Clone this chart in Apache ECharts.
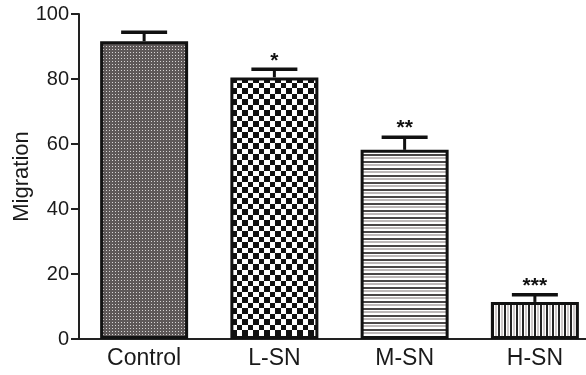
<!DOCTYPE html>
<html><head><meta charset="utf-8">
<script src="https://cdn.jsdelivr.net/npm/echarts@6/dist/echarts.min.js"></script>
<style>html,body{margin:0;padding:0;background:#fff}#c{width:586px;height:375px}</style>
</head><body><div id="c"></div>
<script>
const categories = ['Control', 'L-SN', 'M-SN', 'H-SN'];
const means = [91.6, 80.5, 58.2, 11.4];
const errors = [2.8, 2.5, 3.9, 2.2];
const significance = ['', '*', '**', '***'];
const yTicks = [0, 20, 40, 60, 80, 100];

function makePattern(w, h, draw) {
  const c = document.createElement('canvas');
  c.width = w; c.height = h;
  const g = c.getContext('2d');
  draw(g);
  return { image: c, repeat: 'repeat' };
}
const patterns = [
  makePattern(3, 3, g => { g.fillStyle = '#5e5858'; g.fillRect(0,0,3,3); g.fillStyle = '#d6d3d3'; g.fillRect(1,1,1,1); }),
  makePattern(11, 11, g => { g.fillStyle = '#fff'; g.fillRect(0,0,11,11); g.fillStyle = '#111'; g.fillRect(0,0,6,6); g.fillRect(6,6,5,5); }),
  makePattern(1, 7, g => { g.fillStyle = '#fff'; g.fillRect(0,0,1,7); g.fillStyle = '#4a4747'; g.fillRect(0,0,1,2); g.fillStyle = '#bdb8b8'; g.fillRect(0,3,1,2); }),
  makePattern(6, 1, g => { g.fillStyle = '#fff'; g.fillRect(0,0,6,1); g.fillStyle = '#222'; g.fillRect(0,0,2,1); g.fillStyle = '#cfcaca'; g.fillRect(3,0,2,1); })
];

const chart = echarts.init(document.getElementById('c'));
chart.setOption({
  animation: false,
  grid: { left: 79, right: -14, top: 14, bottom: 36, containLabel: false, outerBoundsMode: 'none' },
  xAxis: {
    type: 'category', data: categories,
    axisLine: { lineStyle: { color: '#222', width: 2 } },
    axisTick: { alignWithLabel: true, length: 6, lineStyle: { color: '#222', width: 2 } },
    axisLabel: { color: '#1a1a1a', fontSize: 23, fontFamily: 'Liberation Sans, Arial', margin: 8 }
  },
  yAxis: {
    type: 'value', min: 0, max: 100, interval: 20,
    name: 'Migration', nameLocation: 'middle', nameGap: 46, nameMoveOverlap: false,
    nameTextStyle: { color: '#1a1a1a', fontSize: 22, fontFamily: 'Liberation Sans, Arial' },
    axisLine: { show: true, lineStyle: { color: '#222', width: 2 } },
    axisTick: { show: true, length: 8, lineStyle: { color: '#222', width: 2 } },
    axisLabel: { color: '#1a1a1a', fontSize: 20, fontFamily: 'Liberation Sans, Arial', margin: 10,
      formatter: v => yTicks.includes(v) ? String(v) : '' },
    splitLine: { show: false }
  },
  series: [
    {
      type: 'bar', barWidth: 88,
      data: means.map((v, i) => ({ value: v, itemStyle: { color: patterns[i] } })),
      itemStyle: { borderColor: '#111', borderWidth: 3 }
    },
    {
      type: 'custom',
      data: means.map((m, i) => [i, m, errors[i]]),
      renderItem: function (params, api) {
        const i = api.value(0), m = api.value(1), e = api.value(2);
        const s = significance[i];
        const base = api.coord([i, m]);
        const top = api.coord([i, m + e]);
        const half = 23;
        return {
          type: 'group',
          children: [
            { type: 'line', shape: { x1: base[0], y1: base[1], x2: top[0], y2: top[1] }, style: { stroke: '#111', lineWidth: 3 } },
            { type: 'line', shape: { x1: top[0] - half, y1: top[1], x2: top[0] + half, y2: top[1] }, style: { stroke: '#111', lineWidth: 3.5 } },
            { type: 'text', style: { text: s, x: top[0], y: top[1] + 2, textAlign: 'center', textVerticalAlign: 'bottom', font: 'bold 21px "Liberation Sans", Arial', fill: '#111' } }
          ]
        };
      },
      z: 5
    }
  ]
});
</script></body></html>
